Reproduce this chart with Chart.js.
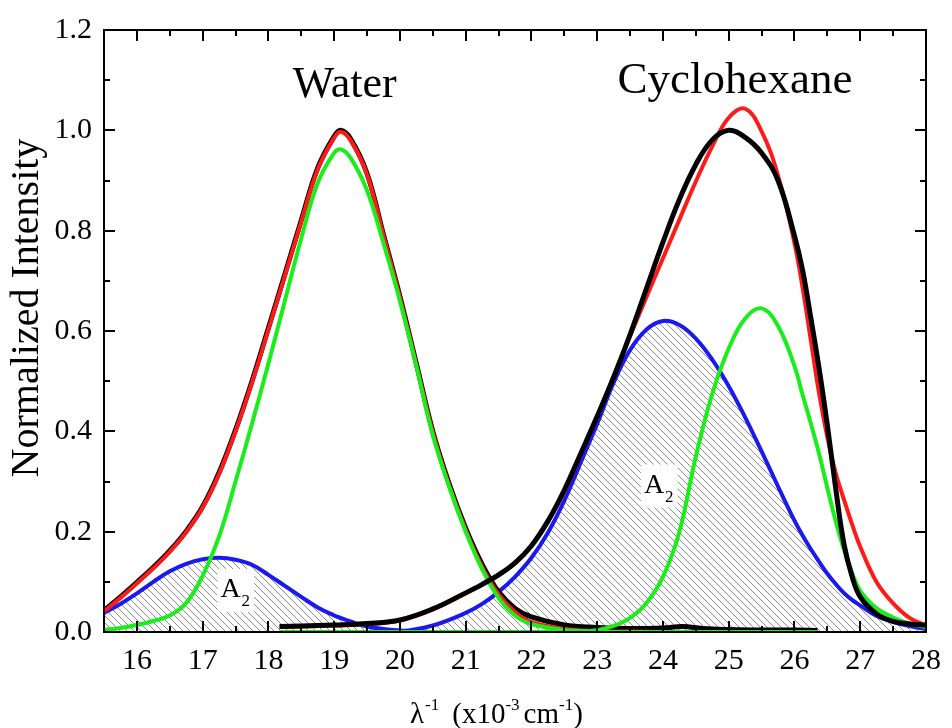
<!DOCTYPE html>
<html>
<head>
<meta charset="utf-8">
<script src="https://cdn.jsdelivr.net/npm/chart.js@4.4.1/dist/chart.umd.min.js"></script>
<style>
  html, body { margin: 0; padding: 0; background: #fff; }
</style>
</head>
<body>
<canvas id="chart" width="952" height="728"></canvas>
<script>
// axis ticks
const xTicks = [16, 17, 18, 19, 20, 21, 22, 23, 24, 25, 26, 27, 28];
const xMinor = [16.5, 17.5, 18.5, 19.5, 20.5, 21.5, 22.5, 23.5, 24.5, 25.5, 26.5, 27.5];
const yTicks = [0, 0.2, 0.4, 0.6, 0.8, 1.0, 1.2];
const yMinor = [0.1, 0.3, 0.5, 0.7, 0.9, 1.1];

// water spectrum
const waterX = [15.5, 15.75, 16, 16.25, 16.5, 16.75, 17, 17.25, 17.5, 17.75, 18, 18.25, 18.5, 18.75, 19, 19.1, 19.25, 19.5, 19.75, 20,
  20.25, 20.5, 20.75, 21, 21.25, 21.5, 21.75, 22, 22.5, 23, 23.5, 24, 24.3, 24.6, 25, 25.5, 26, 26.35];
const waterData = [0.043, 0.07, 0.099, 0.129, 0.162, 0.201, 0.25, 0.318, 0.403, 0.5, 0.606, 0.713, 0.821, 0.925, 0.988, 1.0, 0.983, 0.914, 0.792, 0.669,
  0.535, 0.4, 0.295, 0.207, 0.135, 0.08, 0.047, 0.03, 0.014, 0.009, 0.007, 0.008, 0.011, 0.007, 0.005, 0.004, 0.004, 0.003];
const waterFit = [0.041, 0.068, 0.097, 0.127, 0.16, 0.199, 0.248, 0.315, 0.4, 0.497, 0.603, 0.71, 0.818, 0.922, 0.985, 0.997, 0.98, 0.912, 0.79, 0.667,
  0.533, 0.398, 0.292, 0.204, 0.13, 0.075, 0.04, 0.02, 0.006, 0.002, 0.001, 0, 0, 0, 0, 0, 0, 0];
const waterMain = [0.004, 0.008, 0.014, 0.022, 0.033, 0.058, 0.112, 0.19, 0.3, 0.415, 0.535, 0.66, 0.785, 0.895, 0.955, 0.962, 0.945, 0.88, 0.775, 0.66,
  0.53, 0.392, 0.289, 0.2, 0.125, 0.068, 0.033, 0.016, 0.004, 0.001, 0, 0, 0, 0, 0, 0, 0, 0];
const waterA2 = [0.038, 0.056, 0.077, 0.1, 0.121, 0.136, 0.145, 0.148, 0.144, 0.134, 0.114, 0.092, 0.07, 0.049, 0.033, 0.028, 0.021, 0.011, 0.006, 0.003,
  0.001, 0, 0, 0, 0, 0, 0, 0, 0, 0, 0, 0, 0, 0, 0, 0, 0, 0];

// cyclohexane spectrum
const cyclX = [18.17, 18.5, 19, 19.5, 20, 20.5, 21, 21.25, 21.5, 21.75, 22, 22.25, 22.5, 22.75, 23, 23.25, 23.5, 23.75, 24, 24.25,
  24.5, 24.75, 25, 25.25, 25.5, 25.75, 26, 26.125, 26.25, 26.375, 26.5, 26.625, 26.75, 26.875, 27, 27.25, 27.5, 27.75, 28];
const cyclData = [0.011, 0.012, 0.014, 0.017, 0.024, 0.046, 0.078, 0.095, 0.114, 0.138, 0.172, 0.221, 0.283, 0.356, 0.43, 0.508, 0.593, 0.685, 0.777, 0.862,
  0.932, 0.981, 1.0, 0.986, 0.955, 0.9, 0.79, 0.72, 0.625, 0.525, 0.412, 0.288, 0.177, 0.111, 0.07, 0.036, 0.021, 0.016, 0.014];
const cyclFit = [0.01, 0.011, 0.013, 0.016, 0.023, 0.045, 0.077, 0.094, 0.113, 0.137, 0.171, 0.22, 0.28, 0.354, 0.43, 0.51, 0.59, 0.668, 0.745, 0.822,
  0.898, 0.968, 1.025, 1.043, 0.998, 0.91, 0.775, 0.685, 0.58, 0.475, 0.388, 0.318, 0.265, 0.215, 0.17, 0.099, 0.057, 0.028, 0.013];
const cyclMain = [0, 0, 0, 0, 0, 0, 0, 0, 0, 0, 0, 0, 0, 0, 0.004, 0.012, 0.028, 0.058, 0.11, 0.2,
  0.35, 0.475, 0.565, 0.625, 0.645, 0.61, 0.53, 0.472, 0.415, 0.355, 0.287, 0.222, 0.165, 0.118, 0.082, 0.047, 0.029, 0.017, 0.01];
const cyclA2 = [0, 0, 0, 0, 0.001, 0.013, 0.038, 0.056, 0.08, 0.11, 0.148, 0.198, 0.262, 0.338, 0.415, 0.497, 0.562, 0.603, 0.62, 0.612,
  0.585, 0.543, 0.49, 0.428, 0.36, 0.29, 0.222, 0.192, 0.165, 0.14, 0.116, 0.096, 0.078, 0.064, 0.053, 0.032, 0.02, 0.012, 0.006];

const SERIF = '"Liberation Serif", "Times New Roman", serif';

function pts(xs, ys) {
  return xs.map((x, i) => ({ x: x, y: ys[i] }));
}

// diagonal hatch for the A2 areas
function makeHatch() {
  const c = document.createElement('canvas');
  c.width = 7; c.height = 7;
  const g = c.getContext('2d');
  g.strokeStyle = '#6e6e6e';
  g.lineWidth = 0.8;
  g.beginPath();
  g.moveTo(-1, -1); g.lineTo(8, 8);
  g.moveTo(-1, 6); g.lineTo(1, 8);
  g.moveTo(6, -1); g.lineTo(8, 1);
  g.stroke();
  return g.createPattern(c, 'repeat');
}
const hatch = makeHatch();

function line(data, color, width, order, fill) {
  return {
    data: data,
    borderColor: color,
    borderWidth: width,
    pointRadius: 0,
    tension: 0.4,
    fill: fill ? 'origin' : false,
    backgroundColor: fill ? hatch : 'transparent',
    order: order
  };
}

const RED = '#ff1a1a', GREEN = '#1aee1a', BLUE = '#1a1aee', BLACK = '#000';

const decor = {
  id: 'decor',
  afterDatasetsDraw(chart) {
    const ctx = chart.ctx, a = chart.chartArea;
    const xs = chart.scales.x, ys = chart.scales.y;
    ctx.save();
    ctx.strokeStyle = '#000';
    ctx.lineWidth = 2;
    ctx.strokeRect(a.left, a.top, a.right - a.left, a.bottom - a.top);
    ctx.beginPath();
    const tickX = (v, len) => {
      const p = Math.round(xs.getPixelForValue(v));
      ctx.moveTo(p, a.bottom); ctx.lineTo(p, a.bottom - len);
      ctx.moveTo(p, a.top); ctx.lineTo(p, a.top + len);
    };
    const tickY = (v, len) => {
      const p = Math.round(ys.getPixelForValue(v));
      ctx.moveTo(a.left, p); ctx.lineTo(a.left + len, p);
      ctx.moveTo(a.right, p); ctx.lineTo(a.right - len, p);
    };
    xTicks.forEach(v => tickX(v, 11));
    xMinor.forEach(v => tickX(v, 6));
    yTicks.forEach(v => tickY(v, 11));
    yMinor.forEach(v => tickY(v, 6));
    ctx.stroke();
    ctx.restore();
  },
  afterDraw(chart) {
    const ctx = chart.ctx;
    const xs = chart.scales.x, ys = chart.scales.y;
    ctx.save();
    ctx.fillStyle = '#000';
    ctx.textBaseline = 'alphabetic';
    ctx.textAlign = 'left';

    // solvent names
    ctx.font = '44px ' + SERIF;
    ctx.fillText('Water', xs.getPixelForValue(18.37), ys.getPixelForValue(1.067));
    ctx.font = '45px ' + SERIF;
    ctx.fillText('Cyclohexane', xs.getPixelForValue(23.31), ys.getPixelForValue(1.075));

    // A2 labels on white boxes
    const a2 = (xv, yv) => {
      const x = xs.getPixelForValue(xv), y = ys.getPixelForValue(yv);
      ctx.font = '28px ' + SERIF;
      const wA = ctx.measureText('A').width;
      ctx.font = '17px ' + SERIF;
      const w2 = ctx.measureText('2').width;
      ctx.fillStyle = '#fff';
      ctx.fillRect(x - 3, y - 28, wA + w2 + 8, 43);
      ctx.fillStyle = '#000';
      ctx.font = '28px ' + SERIF;
      ctx.fillText('A', x, y);
      ctx.font = '17px ' + SERIF;
      ctx.fillText('2', x + wA + 1, y + 9);
    };
    a2(17.27, 0.07);
    a2(23.71, 0.278);

    // y axis title
    ctx.font = '40px ' + SERIF;
    ctx.textAlign = 'center';
    ctx.textBaseline = 'middle';
    ctx.translate(27, 308);
    ctx.rotate(-Math.PI / 2);
    ctx.fillText('Normalized Intensity', 0, 0);
    ctx.setTransform(1, 0, 0, 1, 0, 0);

    // x axis title with superscripts
    ctx.textAlign = 'left';
    ctx.textBaseline = 'alphabetic';
    let x = 410;
    const base = 723;
    const part = (t, sup) => {
      ctx.font = (sup ? '17px ' : '29px ') + SERIF;
      ctx.fillText(t, x, sup ? base - 13 : base);
      x += ctx.measureText(t).width;
    };
    part('\u03bb', false);
    x += 1;
    part('-1', true);
    x += 13;
    part('(x10', false);
    part('-3', true);
    x += 4;
    part('cm', false);
    part('-1', true);
    part(')', false);
    ctx.restore();
  }
};

new Chart(document.getElementById('chart'), {
  type: 'line',
  data: {
    datasets: [
      line(pts(cyclX, cyclData), BLACK, 5, 0, false),
      line(pts(waterX, waterMain), GREEN, 4, 1, false),
      line(pts(cyclX, cyclMain), GREEN, 4, 1, false),
      line(pts(waterX, waterFit), RED, 4, 2, false),
      line(pts(cyclX, cyclFit), RED, 4, 2, false),
      line(pts(waterX, waterData), BLACK, 5, 3, false),
      line(pts(waterX, waterA2), BLUE, 4, 4, true),
      line(pts(cyclX, cyclA2), BLUE, 4, 4, true)
    ]
  },
  options: {
    responsive: false,
    animation: false,
    devicePixelRatio: 1,
    layout: { padding: { top: 28, right: 16, left: 0, bottom: 0 } },
    plugins: {
      legend: { display: false },
      tooltip: { enabled: false },
      filler: { propagate: false }
    },
    scales: {
      x: {
        type: 'linear',
        min: 15.5,
        max: 28,
        afterBuildTicks: s => { s.ticks = xTicks.map(v => ({ value: v })); },
        afterFit: s => { s.height = 96; },
        grid: { display: false, drawTicks: false },
        border: { display: false },
        ticks: {
          color: '#000',
          padding: 11,
          maxRotation: 0,
          autoSkip: false,
          font: { family: SERIF, size: 30 },
          callback: v => String(v)
        }
      },
      y: {
        min: 0,
        max: 1.2,
        afterBuildTicks: s => { s.ticks = yTicks.map(v => ({ value: v })); },
        afterFit: s => { s.width = 104; },
        grid: { display: false, drawTicks: false },
        border: { display: false },
        ticks: {
          color: '#000',
          padding: 12,
          autoSkip: false,
          font: { family: SERIF, size: 30 },
          callback: v => v.toFixed(1)
        }
      }
    }
  },
  plugins: [decor]
});
</script>
</body>
</html>
